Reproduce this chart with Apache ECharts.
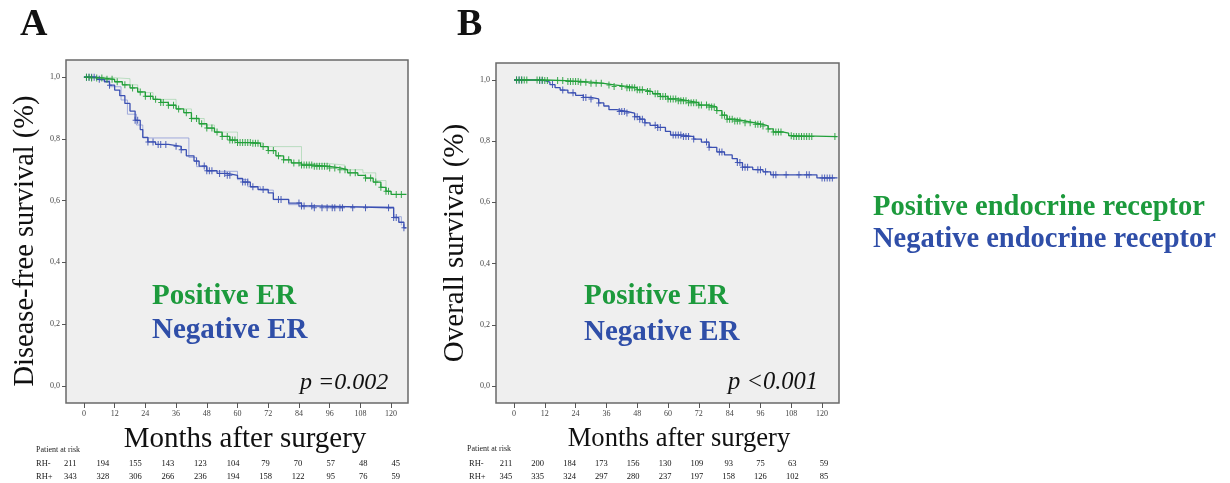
<!DOCTYPE html>
<html>
<head>
<meta charset="utf-8">
<title>Survival by endocrine receptor status</title>
<script src="https://cdn.jsdelivr.net/npm/echarts@6/dist/echarts.min.js"></script>
<style>
  html, body { margin: 0; padding: 0; background: #fff; }
  #chart { width: 1230px; height: 483px; }
</style>
</head>
<body>
<div id="chart"></div>
<script>
// axis ticks
var monthTicks = [0, 12, 24, 36, 48, 60, 72, 84, 96, 108, 120];
var survivalTicks = [0, 0.2, 0.4, 0.6, 0.8, 1.0];
var riskRows = ["RH-", "RH+"];

// Kaplan-Meier steps [month, survival]
// A: disease-free survival
var dfsPositive = [
  [0, 1.0], [3, 0.997], [8, 0.993], [12, 0.985], [15, 0.975], [18, 0.965], [21, 0.952],
  [24, 0.938], [27, 0.928], [30, 0.918], [33, 0.909], [36, 0.897], [39, 0.885], [42, 0.866],
  [45, 0.849], [48, 0.835], [51, 0.822], [54, 0.808], [57, 0.796], [60, 0.788], [66, 0.786],
  [69, 0.775], [72, 0.762], [75, 0.745], [78, 0.732], [81, 0.722], [85, 0.715], [90, 0.711],
  [96, 0.706], [100, 0.7], [103, 0.69], [107, 0.682], [110, 0.673], [113, 0.66], [116, 0.643],
  [118, 0.63], [120, 0.62], [126, 0.62]
];
var dfsPositiveAlt = [
  [0, 1.0], [8, 0.995], [18, 0.975], [21, 0.95], [27, 0.928], [36, 0.897], [42, 0.866],
  [47, 0.845], [51, 0.822], [60, 0.788], [70, 0.775], [85, 0.72], [96, 0.715], [102, 0.7],
  [109, 0.69], [114, 0.665], [118, 0.63], [120, 0.62]
];
var dfsNegative = [
  [0, 1.0], [5, 0.993], [8, 0.985], [10, 0.974], [12, 0.958], [14, 0.94], [16, 0.915],
  [18, 0.89], [20, 0.86], [22, 0.83], [23, 0.805], [25, 0.79], [28, 0.782], [33, 0.776],
  [38, 0.765], [40, 0.745], [43, 0.728], [45, 0.712], [48, 0.697], [52, 0.688], [56, 0.682],
  [60, 0.672], [62, 0.66], [65, 0.645], [68, 0.636], [72, 0.625], [74, 0.604], [80, 0.592],
  [85, 0.583], [90, 0.577], [120, 0.577], [121, 0.545], [123, 0.53], [125, 0.512], [126, 0.512]
];
var dfsNegativeAlt = [
  [0, 1.0], [6, 0.99], [10, 0.969], [14.5, 0.926], [17, 0.88], [20.5, 0.845], [23, 0.803],
  [41, 0.74], [44, 0.71], [48, 0.695], [60, 0.668], [64, 0.645], [69, 0.634], [74, 0.603],
  [80, 0.587], [84, 0.58], [121, 0.548], [124, 0.52]
];
var dfsPositiveCensor = [1, 2, 3, 5, 7, 9, 11, 13, 16, 19, 22, 24, 26, 28, 30, 31, 33, 35, 37, 40,
  42, 44, 46, 48, 50, 52, 54, 56, 57, 58, 59, 60, 61, 62, 63, 64, 65, 66, 67, 68, 70, 72, 74, 76,
  78, 80, 82, 84, 85, 86, 87, 88, 89, 90, 91, 92, 93, 94, 95, 96, 98, 100, 102, 104, 106, 110,
  112, 114, 116, 118, 119, 122, 124];
var dfsNegativeCensor = [1, 2, 3, 4, 6, 10, 20, 21, 25, 27, 29, 30, 32, 36, 38, 44, 47, 48, 49,
  50, 53, 55, 56, 57, 62, 63, 64, 66, 70, 76, 77, 84, 85, 86, 89, 90, 93, 95, 97, 98, 100, 101,
  105, 110, 119, 121, 122, 125];

// B: overall survival
var osPositive = [
  [0, 1.0], [12, 0.998], [20, 0.995], [26, 0.993], [30, 0.989], [35, 0.984], [39, 0.979],
  [44, 0.975], [48, 0.968], [51, 0.962], [54, 0.955], [57, 0.946], [60, 0.938], [64, 0.932],
  [68, 0.926], [72, 0.918], [76, 0.912], [79, 0.9], [81, 0.885], [83, 0.872], [86, 0.866],
  [90, 0.86], [94, 0.855], [97, 0.85], [99, 0.84], [101, 0.83], [105, 0.826], [107, 0.818],
  [108.5, 0.815], [126, 0.815]
];
var osNegative = [
  [0, 1.0], [9, 0.998], [12, 0.993], [14, 0.985], [16, 0.975], [18, 0.967], [21, 0.958],
  [24, 0.95], [27, 0.943], [30, 0.938], [33, 0.925], [35, 0.915], [37, 0.903], [40, 0.897],
  [44, 0.892], [47, 0.88], [49, 0.872], [51, 0.86], [53, 0.852], [56, 0.845], [59, 0.832],
  [61, 0.82], [66, 0.815], [70, 0.807], [73, 0.797], [76, 0.78], [79, 0.765], [82, 0.755],
  [85, 0.743], [87, 0.73], [89, 0.715], [93, 0.707], [97, 0.7], [100, 0.69], [118, 0.68],
  [126, 0.68]
];
var osPositiveCensor = [1, 2, 3, 4, 5, 9, 10, 11, 12, 13, 17, 19, 21, 22, 23, 24, 25, 26, 28, 30,
  32, 34, 37, 39, 42, 44, 45, 46, 47, 48, 49, 50, 52, 53, 55, 56, 57, 58, 59, 60, 61, 62, 63, 64,
  65, 66, 67, 68, 69, 70, 71, 72, 73, 75, 76, 77, 78, 79, 81, 82, 83, 84, 85, 86, 87, 88, 90, 92,
  94, 95, 96, 97, 99, 101, 102, 103, 104, 108, 109, 110, 111, 112, 113, 114, 115, 116, 125];
var osNegativeCensor = [1, 2, 3, 10, 11, 15, 19, 23, 27, 28, 30, 33, 41, 42, 43, 44, 47, 48, 49,
  50, 51, 55, 56, 57, 62, 63, 64, 65, 66, 67, 68, 70, 75, 76, 80, 81, 87, 88, 89, 90, 91, 95, 96,
  98, 101, 102, 106, 111, 114, 115, 120, 121, 122, 123, 124];

// patients at risk
var dfsRiskNeg = [211, 194, 155, 143, 123, 104, 79, 70, 57, 48, 45];
var dfsRiskPos = [343, 328, 306, 266, 236, 194, 158, 122, 95, 76, 59];
var osRiskNeg = [211, 200, 184, 173, 156, 130, 109, 93, 75, 63, 59];
var osRiskPos = [345, 335, 324, 297, 280, 237, 197, 158, 126, 102, 85];

var GREEN = "#22a03a";
var BLUE = "#3b50b2";
var GREEN_TXT = "#1c9a3c";
var BLUE_TXT = "#2f4ea8";
var SERIF = '"Liberation Serif", "Times New Roman", serif';
var PLUS = "path://M2,0h1v7h-1z M0,3h5v1h-5z";

// survival at month t on a step curve
function survAt(steps, t) {
  var v = steps[0][1];
  for (var i = 0; i < steps.length; i++) {
    if (steps[i][0] <= t) v = steps[i][1];
  }
  return v;
}

function censorPoints(steps, times) {
  return times.map(function (t) { return [t, survAt(steps, t)]; });
}

function riskPoints(neg, pos) {
  var out = [];
  neg.forEach(function (n, i) { out.push([i, 0, n]); });
  pos.forEach(function (n, i) { out.push([i, 1, n]); });
  return out;
}

function plotX(idx) {
  return {
    gridIndex: idx, type: "value", min: -7, max: 126.6,
    axisLine: { show: false, onZero: false },
    splitLine: { show: false },
    axisTick: { show: true, length: 5, customValues: monthTicks, lineStyle: { color: "#555" } },
    axisLabel: { customValues: monthTicks, margin: 7, fontSize: 8, color: "#444", fontFamily: SERIF }
  };
}

function plotY(idx) {
  return {
    gridIndex: idx, type: "value", min: -0.0555, max: 1.0555,
    axisLine: { show: false, onZero: false },
    splitLine: { show: false },
    axisTick: { show: true, length: 4, customValues: survivalTicks, lineStyle: { color: "#555" } },
    axisLabel: {
      customValues: survivalTicks, margin: 6, fontSize: 8, color: "#444", fontFamily: SERIF,
      formatter: function (v) { return v.toFixed(1).replace(".", ","); }
    }
  };
}

function stepLine(idx, data, color, width, opacity, z) {
  return {
    type: "line", xAxisIndex: idx, yAxisIndex: idx, data: data, step: "end",
    showSymbol: false, silent: true, z: z,
    lineStyle: { color: color, width: width, opacity: opacity }
  };
}

function censor(idx, data, color) {
  return {
    type: "scatter", xAxisIndex: idx, yAxisIndex: idx, data: data, symbol: PLUS,
    symbolSize: [5, 7], silent: true, z: 4,
    itemStyle: { color: color, opacity: 0.9 }
  };
}

function riskSeries(idx, data) {
  return {
    type: "scatter", xAxisIndex: idx, yAxisIndex: idx, data: data, symbolSize: 1, silent: true,
    itemStyle: { color: "rgba(0,0,0,0)" },
    label: {
      show: true, position: "inside", fontSize: 8.5, color: "#111", fontFamily: SERIF,
      textBorderWidth: 0, opacity: 1,
      formatter: function (p) { return p.value[2]; }
    }
  };
}

function txt(text, x, y, font, color, extra) {
  var el = {
    type: "text", x: x, y: y, silent: true,
    style: { text: text, font: font, fill: color, textAlign: "left", textVerticalAlign: "middle" }
  };
  if (extra) {
    for (var k in extra) {
      if (k === "rotation") el.rotation = extra[k];
      else el.style[k] = extra[k];
    }
  }
  return el;
}

function draw() {
  var myChart = echarts.init(document.getElementById("chart"), null, { renderer: "canvas" });
  var frame = { show: true, backgroundColor: "#efefef", borderColor: "#6a6a6a", borderWidth: 1.5, outerBoundsMode: "none" };
  var option = {
    animation: false,
    backgroundColor: "#fff",
    grid: [
      Object.assign({ left: 66, right: 822, top: 60, bottom: 80 }, frame),
      Object.assign({ left: 496, right: 391, top: 63, bottom: 80 }, frame),
      { left: 54, width: 358, top: 457.5, height: 26, outerBoundsMode: "none" },
      { left: 490, width: 350, top: 457.5, height: 26, outerBoundsMode: "none" }
    ],
    xAxis: [
      plotX(0), plotX(1),
      { gridIndex: 2, type: "category", data: monthTicks.map(String), show: false },
      { gridIndex: 3, type: "category", data: monthTicks.map(String), show: false }
    ],
    yAxis: [
      plotY(0), plotY(1),
      {
        gridIndex: 2, type: "category", data: riskRows, inverse: true,
        axisLine: { show: false }, axisTick: { show: false }, splitLine: { show: false },
        axisLabel: { align: "left", margin: 18, fontSize: 8.5, color: "#222", fontFamily: SERIF }
      },
      {
        gridIndex: 3, type: "category", data: riskRows, inverse: true,
        axisLine: { show: false }, axisTick: { show: false }, splitLine: { show: false },
        axisLabel: { align: "left", margin: 21, fontSize: 8.5, color: "#222", fontFamily: SERIF }
      }
    ],
    series: [
      stepLine(0, dfsNegativeAlt, "#8c98d6", 1, 0.8, 2),
      stepLine(0, dfsPositiveAlt, "#7cc88a", 1, 0.45, 2),
      stepLine(0, dfsNegative, BLUE, 1.3, 1, 3),
      stepLine(0, dfsPositive, GREEN, 1.3, 1, 3),
      censor(0, censorPoints(dfsNegative, dfsNegativeCensor), BLUE),
      censor(0, censorPoints(dfsPositive, dfsPositiveCensor), GREEN),
      stepLine(1, osNegative, BLUE, 1.3, 1, 3),
      stepLine(1, osPositive, GREEN, 1.3, 1, 3),
      censor(1, censorPoints(osNegative, osNegativeCensor), BLUE),
      censor(1, censorPoints(osPositive, osPositiveCensor), GREEN),
      riskSeries(2, riskPoints(dfsRiskNeg, dfsRiskPos)),
      riskSeries(3, riskPoints(osRiskNeg, osRiskPos))
    ],
    graphic: [
      txt("A", 20, 25, "bold 38px " + SERIF, "#111"),
      txt("B", 457, 25, "bold 38px " + SERIF, "#111"),
      txt("Disease-free survival (%)", 26, 241, "28.5px " + SERIF, "#111", { rotation: Math.PI / 2, textAlign: "center" }),
      txt("Overall survival (%)", 455, 243, "29px " + SERIF, "#111", { rotation: Math.PI / 2, textAlign: "center" }),
      txt("Months after surgery", 245, 439, "29px " + SERIF, "#111", { textAlign: "center" }),
      txt("Months after surgery", 679, 439, "26.6px " + SERIF, "#111", { textAlign: "center" }),
      txt("Positive ER", 152, 297, "bold 29px " + SERIF, GREEN_TXT),
      txt("Negative ER", 152, 331, "bold 29px " + SERIF, BLUE_TXT),
      txt("Positive ER", 584, 297, "bold 29px " + SERIF, GREEN_TXT),
      txt("Negative ER", 584, 333, "bold 29px " + SERIF, BLUE_TXT),
      txt("p =0.002", 300, 383, "italic 24px " + SERIF, "#111"),
      txt("p <0.001", 728, 383, "italic 24.5px " + SERIF, "#111"),
      txt("Positive endocrine receptor", 873, 208, "bold 28.5px " + SERIF, GREEN_TXT),
      txt("Negative endocrine receptor", 873, 240, "bold 28.5px " + SERIF, BLUE_TXT),
      txt("Patient at risk", 36, 450, "8px " + SERIF, "#222"),
      txt("Patient at risk", 467, 449, "8px " + SERIF, "#222")
    ]
  };
  myChart.setOption(option);
}

draw();
</script>
</body>
</html>
